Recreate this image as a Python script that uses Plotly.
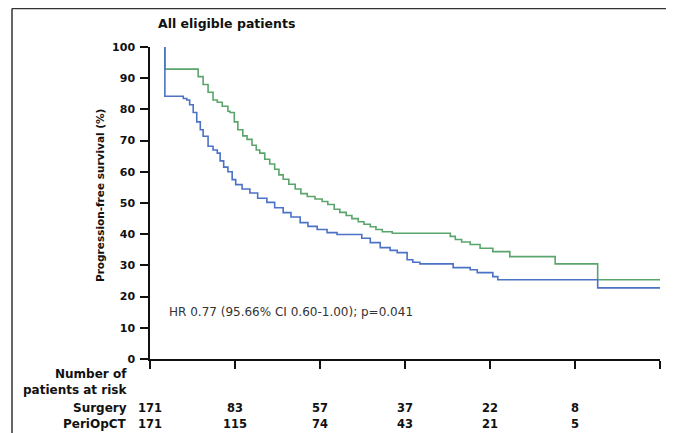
import plotly.graph_objects as go

# ---- data (months, % progression-free) ----
green_t = [2.1, 2.1, 6.8, 7.5, 8.2, 8.9, 9.5, 10.2, 11.0, 11.3, 11.9, 12.4, 13.1, 13.7, 14.4, 15.0,
           15.5, 16.2, 16.9, 17.6, 18.2, 18.8, 19.6, 20.5, 21.3, 22.2, 23.3, 24.3, 25.1, 26.0,
           26.8, 27.7, 28.5, 29.4, 30.2, 31.1, 31.9, 32.8, 34.2, 42.4, 43.1, 44.0, 45.2, 46.6, 48.4,
           50.8, 57.2, 63.2, 72.0]
green_s = [100, 92.9, 90.5, 88, 85.5, 83, 82.3, 81, 79.4, 79, 76, 73.5, 71.5, 70.4, 68.5, 67,
           66, 64, 62.5, 60.8, 59, 57.6, 56, 54.5, 53, 52.1, 51.3, 50.5, 49.5, 48,
           47, 46, 45, 44, 43.2, 42.4, 41.5, 40.8, 40.3, 39.3, 38.3, 37.5, 36.7, 35.5, 34.4,
           32.8, 30.5, 25.4, 25.4]

blue_t = [2.1, 2.1, 4.7, 5.2, 5.6, 6.1, 6.6, 7.1, 7.5, 8.2, 8.9, 9.5, 9.9, 10.4, 11.0, 11.6,
          12.1, 13.0, 14.1, 15.2, 16.5, 17.6, 18.8, 19.9, 21.2, 22.3, 23.6, 25.0, 26.4, 29.9,
          31.1, 32.5, 33.9, 34.9, 36.3, 37.1, 38.1, 42.8, 45.2, 46.2, 48.4, 49.1, 63.2, 72.0]
blue_s = [100, 84.2, 83.5, 83, 81.5, 79, 76, 73.5, 71.4, 68.2, 67, 66, 63.5, 61.5, 60, 57.5,
          55.9, 54.5, 53.2, 51.5, 50.2, 48.5, 46.9, 45.5, 43.7, 42.5, 41.5, 40.5, 39.9, 38.7,
          37.3, 35.7, 34.8, 34.1, 31.8, 31, 30.5, 29.3, 28.6, 27.7, 26.4, 25.4, 22.8, 22.8]

risk_times = [0, 12, 24, 36, 48, 60]
risk_surgery = [171, 83, 57, 37, 22, 8]
risk_periop = [171, 115, 74, 43, 21, 5]
y_ticks = list(range(0, 101, 10))
x_ticks = list(range(0, 73, 12))

OFF = 8  # page body margin
W, H = 666, 425
L, T = 142, 39
PW, PH = 510, 312
R = W - L - PW
B = H - T - PH


def px(x):
    return (x - OFF - L) / PW


def py(y):
    return (H - B - (y - OFF)) / PH


FONT = "DejaVu Sans, Liberation Sans, Arial, sans-serif"
GREEN = "#5aa56c"
BLUE = "#4c72c6"

fig = go.Figure()
fig.add_trace(go.Scatter(x=green_t, y=green_s, mode="lines", line=dict(color=GREEN, width=1.6, shape="hv"),
                         name="PeriOpCT", showlegend=False))
fig.add_trace(go.Scatter(x=blue_t, y=blue_s, mode="lines", line=dict(color=BLUE, width=1.6, shape="hv"),
                         name="Surgery", showlegend=False))

ann = []


def add(text, x, y, size, xanchor="center", xref="paper", angle=0, color="#111"):
    ann.append(dict(text=text, x=x, y=y, xref=xref, yref="paper", xanchor=xanchor, yanchor="middle",
                    showarrow=False, textangle=angle, font=dict(size=size, color=color, family=FONT)))


add("<b>All eligible patients</b>", px(226), py(23), 12.5)
add("<b>Progression-free survival (%)</b>", px(100), py(196), 10.5, angle=-90)
add("HR 0.77 (95.66% CI 0.60-1.00); p=0.041", px(167), py(312), 12, xanchor="left", color="#333")
for txt, yy in [("<b>Number of</b>", 374), ("<b>patients at risk</b>", 390), ("<b>Surgery</b>", 408),
                ("<b>PeriOpCT</b>", 424)]:
    add(txt, px(129), py(yy), 12, xanchor="right")
for t, a, b in zip(risk_times, risk_surgery, risk_periop):
    add(f"<b>{a}</b>", t, py(408), 11.5, xref="x")
    add(f"<b>{b}</b>", t, py(424), 11.5, xref="x")

shapes = [
    dict(type="line", xref="paper", yref="paper", x0=px(12), x1=px(12), y0=py(8.5), y1=py(440),
         line=dict(color="#333", width=1.5)),
    dict(type="line", xref="paper", yref="paper", x0=px(12), x1=px(680), y0=py(8.5), y1=py(8.5),
         line=dict(color="#333", width=1.5)),
]

fig.update_layout(
    width=W, height=H, margin=dict(l=L, r=R, t=T, b=B),
    paper_bgcolor="white", plot_bgcolor="white",
    annotations=ann, shapes=shapes,
    xaxis=dict(range=[0, 72], tickvals=x_ticks, showticklabels=False, ticks="outside", ticklen=8,
               tickwidth=1.5, tickcolor="#111", showline=True, linecolor="#111", linewidth=1.5,
               showgrid=False, zeroline=False),
    yaxis=dict(range=[0, 100], tickvals=y_ticks, ticks="outside", ticklen=8, tickwidth=1.5,
               tickcolor="#111", showline=True, linecolor="#111", linewidth=1.5, showgrid=False,
               zeroline=False, ticklabelstandoff=3,
               tickfont=dict(size=11, color="#111", family=FONT, weight="bold")),
)
fig.write_html("out.html")
